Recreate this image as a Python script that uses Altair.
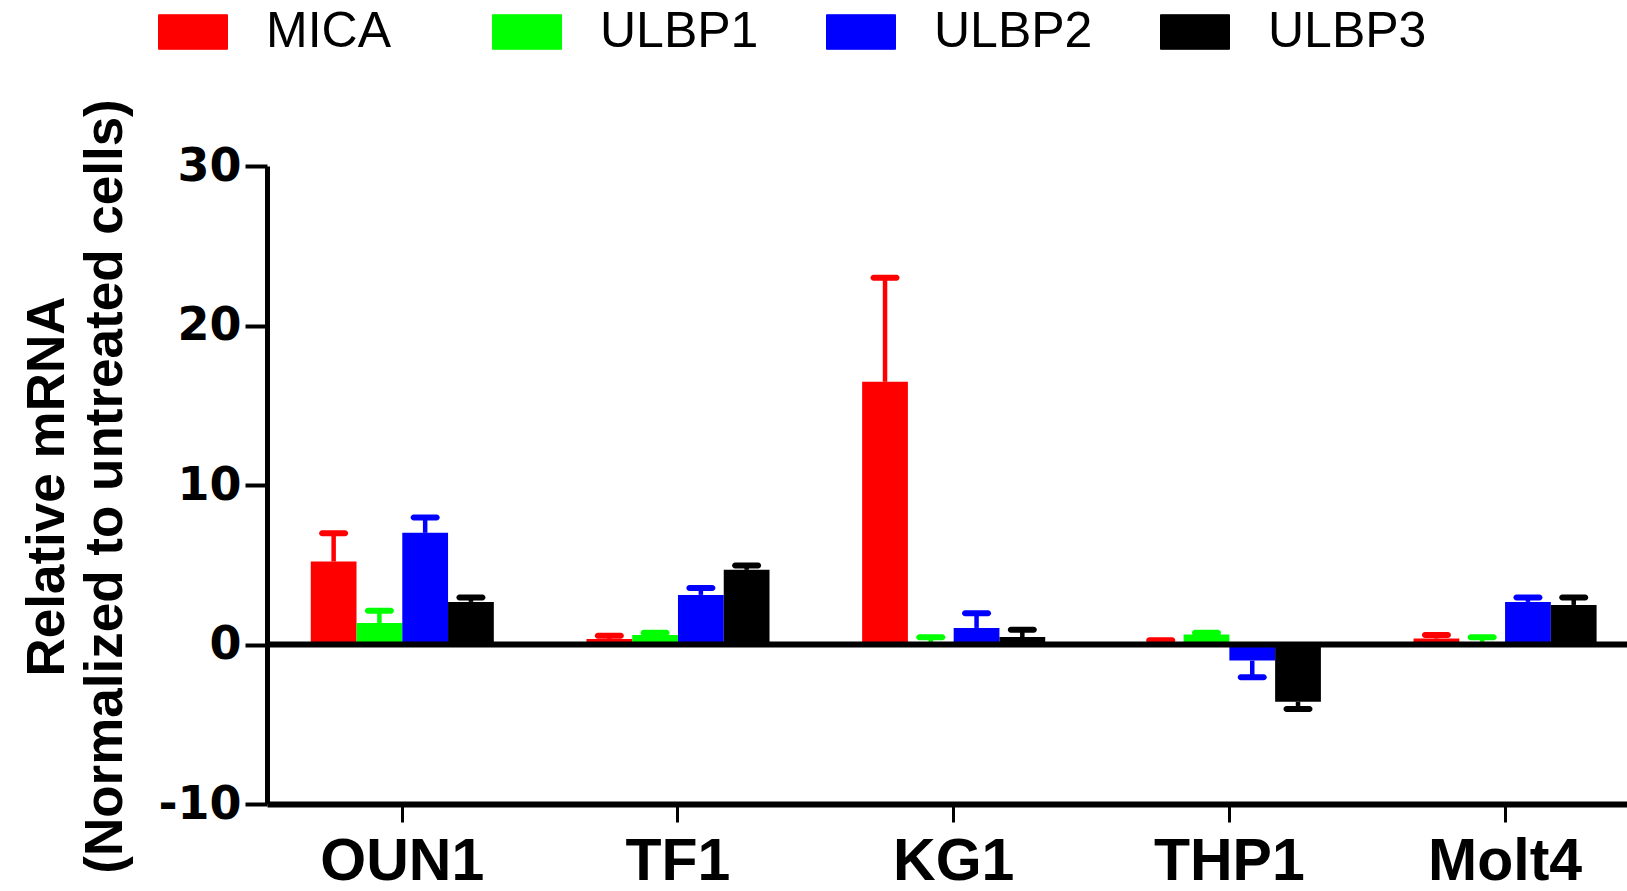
import altair as alt
import pandas as pd

categories = ["OUN1", "TF1", "KG1", "THP1", "Molt4"]
genes = ["MICA", "ULBP1", "ULBP2", "ULBP3"]
colors = ["#FF0000", "#00FF00", "#0000FF", "#000000"]

mica = [5.2, 0.35, 16.47, 0.15, 0.37]
mica_err = [1.78, 0.2, 6.53, 0.11, 0.23]
ulbp1 = [1.35, 0.6, 0.14, 0.62, 0.16]
ulbp1_err = [0.77, 0.14, 0.31, 0.12, 0.29]
ulbp2 = [7.0, 3.11, 1.04, -1.01, 2.67]
ulbp2_err = [0.96, 0.44, 0.92, 1.05, 0.27]
ulbp3 = [2.67, 4.68, 0.47, -3.59, 2.48]
ulbp3_err = [0.27, 0.27, 0.46, 0.46, 0.46]

series = {"MICA": (mica, mica_err), "ULBP1": (ulbp1, ulbp1_err),
          "ULBP2": (ulbp2, ulbp2_err), "ULBP3": (ulbp3, ulbp3_err)}
rows = []
for g in genes:
    vals, errs = series[g]
    for c, v, e in zip(categories, vals, errs):
        rows.append({"cat": c, "gene": g, "value": v,
                     "cap": v + e if v >= 0 else v - e})
df = pd.DataFrame(rows)

FONT = "Liberation Sans"

x = alt.X("cat:N", sort=categories,
          scale=alt.Scale(paddingInner=0.336, paddingOuter=0.1345, align=0.59),
          axis=alt.Axis(title=None, labelAngle=0, labelFont=FONT, labelFontSize=59,
                        labelFontWeight="bold", labelColor="black", labelPadding=10,
                        tickSize=18, tickWidth=3, tickColor="black",
                        domainWidth=6, domainColor="black", grid=False))
xo = alt.XOffset("gene:N", sort=genes, scale=alt.Scale(paddingInner=0, paddingOuter=0))
color = alt.Color("gene:N", sort=genes, scale=alt.Scale(domain=genes, range=colors),
                  legend=alt.Legend(orient="none", legendX=-109, legendY=-169,
                                    direction="horizontal", columns=4, gridAlign="all",
                                    symbolType="M-1,-0.5H1V0.5H-1Z", symbolSize=4761,
                                    symbolStrokeColor="#222222", symbolStrokeWidth=1,
                                    symbolOpacity=1, labelFont=FONT, labelFontSize=50,
                                    labelColor="black", labelOffset=38, labelLimit=400,
                                    columnPadding=65, padding=0, title=None))

yscale = alt.Scale(domain=[-10, 30], nice=False)
yaxis = alt.Axis(title=["Relative mRNA", "(Normalized to untreated cells)"],
                 values=[-10, 0, 10, 20, 30],
                 labelExpr="datum.value < 0 ? '-' + abs(datum.value) : '' + datum.value",
                 labelFont="DejaVu Sans", labelFontSize=46,
                 labelFontWeight="bold", labelColor="black", labelPadding=4,
                 tickSize=22, tickWidth=4, tickColor="black", domainWidth=5,
                 domainColor="black", grid=False, titleFont=FONT, titleFontSize=53,
                 titleFontWeight="bold", titleColor="black", titleLineHeight=58,
                 titleX=-193, titleY=320)

base = alt.Chart(df)
ccol = alt.Color("gene:N", sort=genes, scale=alt.Scale(domain=genes, range=colors), legend=None)

bars = base.mark_bar().encode(
    x=x, xOffset=xo,
    y=alt.Y("value:Q", scale=yscale, axis=yaxis),
    color=color,
)
err = base.mark_rule(strokeWidth=4.5).encode(
    x=x, xOffset=xo, y=alt.Y("value:Q", scale=yscale), y2="cap:Q", color=ccol,
)
caps = base.mark_tick(size=29, thickness=6, cornerRadius=3, opacity=1).encode(
    x=x, xOffset=xo, y=alt.Y("cap:Q", scale=yscale), color=ccol,
)
zero = alt.Chart(pd.DataFrame({"z": [0]})).mark_rule(color="black", strokeWidth=6).encode(
    y=alt.Y("z:Q", scale=yscale)
)

chart = alt.layer(bars, err, caps, zero).properties(
    width=1360, height=638,
    autosize=alt.AutoSizeParams(type="none"),
    padding={"left": 267, "top": 166, "right": 0, "bottom": 87},
).configure_view(stroke=None)

chart.save("out.html", embed_options={"renderer": "svg", "actions": False})
